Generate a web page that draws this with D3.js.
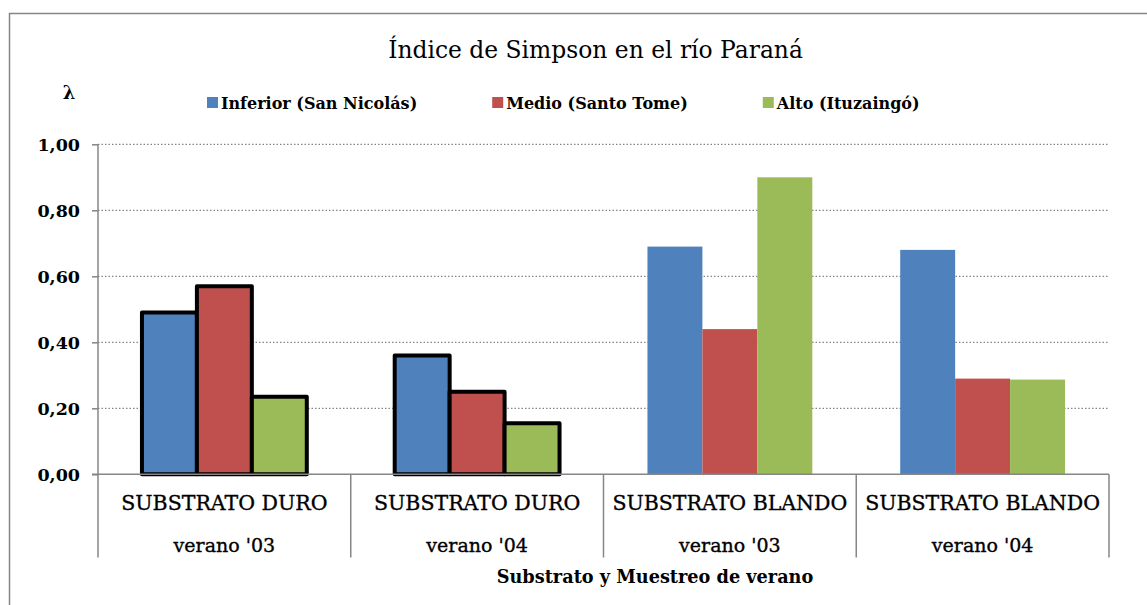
<!DOCTYPE html>
<html>
<head>
<meta charset="utf-8">
<script src="https://cdn.jsdelivr.net/npm/d3@7"></script>
<style>
  body { margin: 0; background: #fff; }
  text { font-family: "DejaVu Serif", "Liberation Serif", serif; fill: #000; }
</style>
</head>
<body>
<div id="chart"></div>
<script>
// chart data
const substratos = ["SUBSTRATO DURO", "SUBSTRATO DURO", "SUBSTRATO BLANDO", "SUBSTRATO BLANDO"];
const veranos = ["verano '03", "verano '04", "verano '03", "verano '04"];
const series = ["Inferior (San Nicolás)", "Medio (Santo Tome)", "Alto (Ituzaingó)"];
const inferior = [0.49, 0.36, 0.69, 0.68];
const medio = [0.57, 0.25, 0.44, 0.29];
const alto = [0.235, 0.155, 0.90, 0.287];
const conBorde = [true, true, false, false];
const yTicks = [0, 0.2, 0.4, 0.6, 0.8, 1.0];

function init() {
    const width = 1147;
    const height = 605;
    const plot = { left: 98, right: 1109, top: 144.3, bottom: 474.3 };
    const colors = ["#4F81BD", "#C0504D", "#9BBB59"];
    const axisGrey = "#868686";

    const svg = d3.select("#chart")
                  .append("svg")
                  .attr("width", width)
                  .attr("height", height);

    // outer chart frame (only top and left visible)
    svg.append("rect")
       .attr("x", 9.5).attr("y", 13.5)
       .attr("width", width + 20).attr("height", height + 20)
       .style("fill", "none")
       .style("stroke", axisGrey)
       .style("stroke-width", 1.5);

    const groups = d3.range(substratos.length);
    const x0 = d3.scaleBand().domain(groups).range([plot.left, plot.right]).padding(0);
    const x1 = d3.scaleBand().domain(d3.range(series.length))
                 .range([0, x0.bandwidth()]).paddingInner(0).paddingOuter(0.8);
    const y = d3.scaleLinear().domain([0, 1]).range([plot.bottom, plot.top]);

    const locale = d3.formatLocale({ decimal: ",", thousands: ".", grouping: [3], currency: ["", ""] });
    const fmt = locale.format(".2f");

    // gridlines
    svg.append("g")
       .selectAll("line")
       .data(yTicks.filter(d => d > 0))
       .enter()
       .append("line")
       .attr("x1", plot.left).attr("x2", plot.right)
       .attr("y1", d => y(d)).attr("y2", d => y(d))
       .style("stroke", axisGrey)
       .style("stroke-width", 1.3)
       .style("stroke-dasharray", "1.5,2");

    // y axis
    const yAxis = svg.append("g")
                     .attr("transform", `translate(${plot.left},0)`)
                     .call(d3.axisLeft(y).tickValues(yTicks).tickFormat(fmt).tickSize(6).tickPadding(12));
    yAxis.select(".domain").remove();
    yAxis.selectAll(".tick line").style("stroke", axisGrey).style("stroke-width", 1.5);
    yAxis.selectAll(".tick text")
         .style("font-family", "DejaVu Serif")
         .style("font-size", "17.5px")
         .style("font-weight", "bold")
         .attr("dy", "0.36em");

    // bars
    const valores = [inferior, medio, alto];
    series.forEach((s, si) => {
        svg.append("g")
           .selectAll("rect")
           .data(groups)
           .enter()
           .append("rect")
           .attr("x", g => x0(g) + x1(si))
           .attr("width", x1.bandwidth())
           .attr("y", g => y(valores[si][g]))
           .attr("height", g => y(0) - y(valores[si][g]))
           .style("fill", colors[si])
           .style("stroke", g => conBorde[g] ? "#000" : "none")
           .style("stroke-width", 4)
           .style("stroke-linejoin", "round");
    });

    // x axis lines
    svg.append("line")
       .attr("x1", plot.left - 6).attr("x2", plot.right)
       .attr("y1", y(0)).attr("y2", y(0))
       .style("stroke", axisGrey).style("stroke-width", 1.5);
    svg.append("line")
       .attr("x1", plot.left).attr("x2", plot.left)
       .attr("y1", plot.top).attr("y2", y(0))
       .style("stroke", axisGrey).style("stroke-width", 1.5);
    const edges = groups.map(g => x0(g)).concat([plot.right]);
    svg.append("g")
       .selectAll("line")
       .data(edges)
       .enter()
       .append("line")
       .attr("x1", d => d).attr("x2", d => d)
       .attr("y1", y(0)).attr("y2", 557.5)
       .style("stroke", axisGrey).style("stroke-width", 1.5);

    // category labels (two rows)
    svg.append("g")
       .selectAll("text")
       .data(groups)
       .enter()
       .append("text")
       .attr("x", g => x0(g) + x0.bandwidth() / 2)
       .attr("y", 510)
       .attr("text-anchor", "middle")
       .style("font-size", "20.5px")
       .style("stroke", "#000")
       .style("stroke-width", 0.35)
       .text(g => substratos[g]);
    svg.append("g")
       .selectAll("text")
       .data(groups)
       .enter()
       .append("text")
       .attr("x", g => x0(g) + x0.bandwidth() / 2)
       .attr("y", 552)
       .attr("text-anchor", "middle")
       .style("font-size", "19px")
       .style("stroke", "#000")
       .style("stroke-width", 0.35)
       .text(g => veranos[g]);

    // titles
    svg.append("text")
       .attr("x", 595.5).attr("y", 58)
       .attr("text-anchor", "middle")
       .style("font-size", "23.4px")
       .text("Índice de Simpson en el río Paraná");
    svg.append("text")
       .attr("x", 655).attr("y", 583)
       .attr("text-anchor", "middle")
       .style("font-size", "17.7px")
       .style("font-weight", "bold")
       .text("Substrato y Muestreo de verano");
    svg.append("text")
       .attr("x", 69).attr("y", 99)
       .attr("text-anchor", "middle")
       .style("font-size", "18px")
       .style("font-weight", "bold")
       .text("λ");

    // legend
    const legend = svg.append("g");
    let lx = 207;
    series.forEach((s, si) => {
        legend.append("rect")
              .attr("x", lx).attr("y", 97)
              .attr("width", 11).attr("height", 11)
              .style("fill", colors[si]);
        const t = legend.append("text")
                        .attr("x", lx + 14).attr("y", 109)
                        .style("font-size", "16px")
                        .style("font-weight", "bold")
                        .text(s);
        lx += 14 + t.node().getComputedTextLength() + 75;
    });
}

window.onload = init;
</script>
</body>
</html>
